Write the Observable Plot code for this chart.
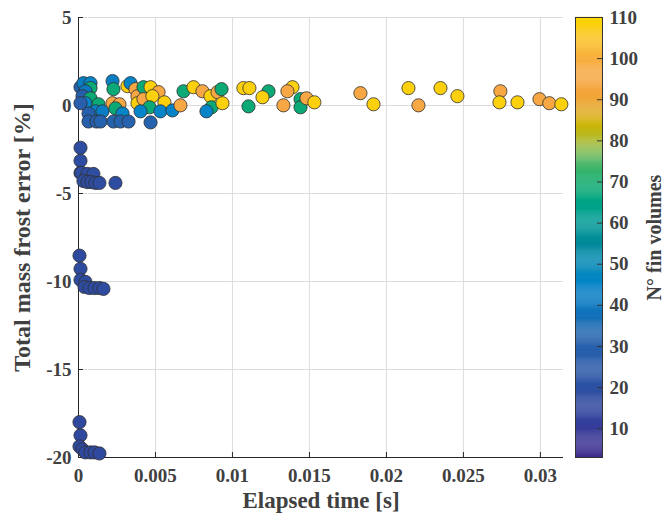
<!DOCTYPE html>
<html>
<head>
<meta charset="utf-8">
<script src="https://cdn.jsdelivr.net/npm/d3@7"></script>
<script src="https://cdn.jsdelivr.net/npm/@observablehq/plot@0.6"></script>
<style>
  html, body { margin: 0; padding: 0; background: #fff; }
  #wrap { position: relative; width: 664px; height: 522px; overflow: hidden; }
  #wrap svg { position: absolute; top: 0; }
</style>
</head>
<body>
<div id="wrap"></div>
<script>
// ---- data ----
const elapsedTime = [
  0.00013, 0.00032, 0.00078, 0.00078, 0.00045, 0.00026, 0.00078, 0.00045, 0.0013, 0.0011,
  0.00156, 0.00065, 0.00065, 0.00117, 0.00143, 0.00013,
  0.00221, 0.00227, 0.00221, 0.00266, 0.0024, 0.00286, 0.00227, 0.00273, 0.00325,
  0.00318, 0.00338, 0.0037, 0.00383, 0.00383, 0.00422, 0.00468, 0.0052, 0.00422, 0.0048,
  0.00461, 0.00403, 0.00558, 0.00532, 0.00468, 0.0061, 0.00662, 0.00682, 0.00747, 0.00805,
  0.00857, 0.00903, 0.00929, 0.00864, 0.00831, 0.00935,
  0.01071, 0.0111, 0.01234, 0.0139, 0.01357, 0.01195, 0.01104, 0.01331, 0.01442, 0.01442,
  0.01481, 0.01532, 0.01831, 0.01916, 0.02143, 0.02208, 0.02351, 0.02461, 0.0274, 0.02734,
  0.02851, 0.02994, 0.03058, 0.03136,
  0.00013, 0.00013, 0.00013, 0.00019, 0.00058, 0.00097, 0.00032, 0.00058, 0.00084, 0.0011, 0.00136, 0.0024,
  0.000065, 0.00013, 0.00013, 0.00045, 0.00039, 0.00071, 0.00104, 0.00136, 0.00162,
  0.000065, 0.00013, 0.000065, 0.00026, 0.00045, 0.00078, 0.00104, 0.00136
];
const massError = [
  1.04, 1.27, 1.27, 0.99, 0.81, 0.53, 0.41, 0.13, 0.07, -0.33,
  -0.33, -0.45, -0.91, -0.91, -0.91, 0.13,
  1.39, 0.93, 0.13, 0.07, -0.16, -0.45, -0.91, -0.91, -0.91,
  1.10, 1.27, 0.93, 0.53, 0.13, 1.04, 1.04, 0.76, 0.36, 0.53,
  -0.10, -0.33, 0.18, -0.33, -0.96, -0.28, 0.01, 0.81, 1.04, 0.81,
  0.53, 0.76, 0.93, -0.10, -0.33, 0.13,
  0.99, 0.99, 0.81, 1.04, 0.81, 0.47, -0.05, 0.01, 0.36, -0.10,
  0.41, 0.18, 0.70, 0.07, 0.99, 0.01, 0.99, 0.53, 0.81, 0.18,
  0.18, 0.36, 0.13, 0.07,
  -2.40, -3.14, -3.83, -3.83, -3.89, -3.89, -4.29, -4.35, -4.35, -4.40, -4.40, -4.40,
  -8.53, -9.28, -9.91, -10.02, -10.31, -10.37, -10.37, -10.37, -10.42,
  -17.99, -18.74, -19.37, -19.54, -19.71, -19.71, -19.71, -19.77
];
const finVolumes = [
  30, 42, 45, 68, 40, 30, 68, 45, 68, 45,
  42, 30, 30, 30, 32, 28,
  42, 68, 95, 95, 68, 45, 32, 32, 32,
  108, 45, 95, 95, 108, 68, 108, 95, 95, 108,
  68, 45, 108, 45, 32, 45, 95, 68, 108, 95,
  108, 95, 68, 68, 45, 108,
  108, 108, 68, 108, 95, 108, 68, 95, 68, 68,
  95, 108, 95, 108, 108, 95, 108, 108, 95, 108,
  108, 95, 95, 108,
  18, 18, 18, 18, 18, 18, 18, 18, 18, 18, 18, 18,
  17, 17, 17, 17, 17, 17, 17, 17, 17,
  16, 16, 16, 16, 16, 16, 16, 16
];
const xTicks = [0, 0.005, 0.01, 0.015, 0.02, 0.025, 0.03];
const yTicks = [-20, -15, -10, -5, 0, 5];
const cbTicks = [10, 20, 30, 40, 50, 60, 70, 80, 90, 100, 110];
const colorStops = [3, 10, 17, 25, 32, 40, 45, 50, 55, 60, 65, 70, 75, 80, 84, 88, 92, 96, 100, 105, 110];
const colorValues = ["#3e2a8c", "#363c99", "#2e4ba0", "#2a5aa8", "#2563ae", "#0b78bf", "#0584c8", "#0589b6", "#008a98", "#009a96", "#00a584", "#12ab6c", "#5bbb6c", "#b0bb30", "#cdb300", "#e8a830", "#f5a53c", "#f7a847", "#f8b040", "#fbc41e", "#fcd800"];
const xLabel = "Elapsed time [s]";
const yLabel = "Total mass frost error [%]";
const cbLabel = "N° fin volumes";

const data = elapsedTime.map((t, i) => ({t, e: massError[i], v: finVolumes[i]}));
const font = "'Liberation Serif', 'Times New Roman', serif";
const colorScale = {type: "linear", domain: colorStops, range: colorValues, clamp: true};

const main = Plot.plot({
  width: 664, height: 522,
  marginLeft: 78, marginRight: 101, marginTop: 17, marginBottom: 65,
  style: {fontFamily: font, fontSize: "19px", fontWeight: "bold", color: "#404040", background: "transparent"},
  x: {domain: [0, 0.0315]},
  y: {domain: [-20, 5]},
  color: colorScale,
  marks: [
    Plot.gridX(xTicks, {stroke: "#dcdcdc", strokeOpacity: 1}),
    Plot.gridY(yTicks, {stroke: "#dcdcdc", strokeOpacity: 1}),
    Plot.axisX(xTicks, {tickSize: -5, tickPadding: 16, tickFormat: d => String(d), label: null, stroke: "#262626", fontWeight: "bold"}),
    Plot.axisY(yTicks, {tickSize: -5, tickPadding: 12, tickFormat: d => String(d), label: null, stroke: "#262626", fontWeight: "bold"}),
    Plot.ruleX([0], {stroke: "#262626"}),
    Plot.ruleY([-20], {stroke: "#262626"}),
    Plot.dot(data, {x: "t", y: "e", fill: "v", r: 6.6, stroke: "#303030", strokeWidth: 0.8}),
    Plot.text([xLabel], {frameAnchor: "bottom", dy: 50, textAnchor: "middle", text: d => d, fontSize: 23, fontWeight: "bold", fill: "#404040"}),
    Plot.text([yLabel], {frameAnchor: "left", rotate: -90, dx: -56, textAnchor: "middle", text: d => d, fontSize: 24, fontWeight: "bold", fill: "#404040"})
  ]
});
main.style.left = "0px";

const cb = Plot.plot({
  width: 89, height: 522,
  marginLeft: 0, marginRight: 62, marginTop: 17, marginBottom: 65,
  style: {fontFamily: font, fontSize: "19px", fontWeight: "bold", color: "#404040", background: "transparent"},
  y: {domain: [3, 110]},
  color: colorScale,
  marks: [
    Plot.rect(d3.range(3, 110, 0.25), {y1: d => d, y2: d => d + 0.3, fill: d => d}),
    Plot.frame({stroke: "#333"}),
    Plot.axisY(cbTicks, {anchor: "right", tickSize: -6, tickPadding: 13, label: null, stroke: "#333", fontWeight: "bold"}),
    Plot.text([cbLabel], {frameAnchor: "right", rotate: -90, dx: 52, textAnchor: "middle", text: d => d, fontSize: 20, fontWeight: "bold", fill: "#404040"})
  ]
});
cb.style.left = "575px";

const wrap = document.getElementById("wrap");
wrap.appendChild(main);
wrap.appendChild(cb);
</script>
</body>
</html>
